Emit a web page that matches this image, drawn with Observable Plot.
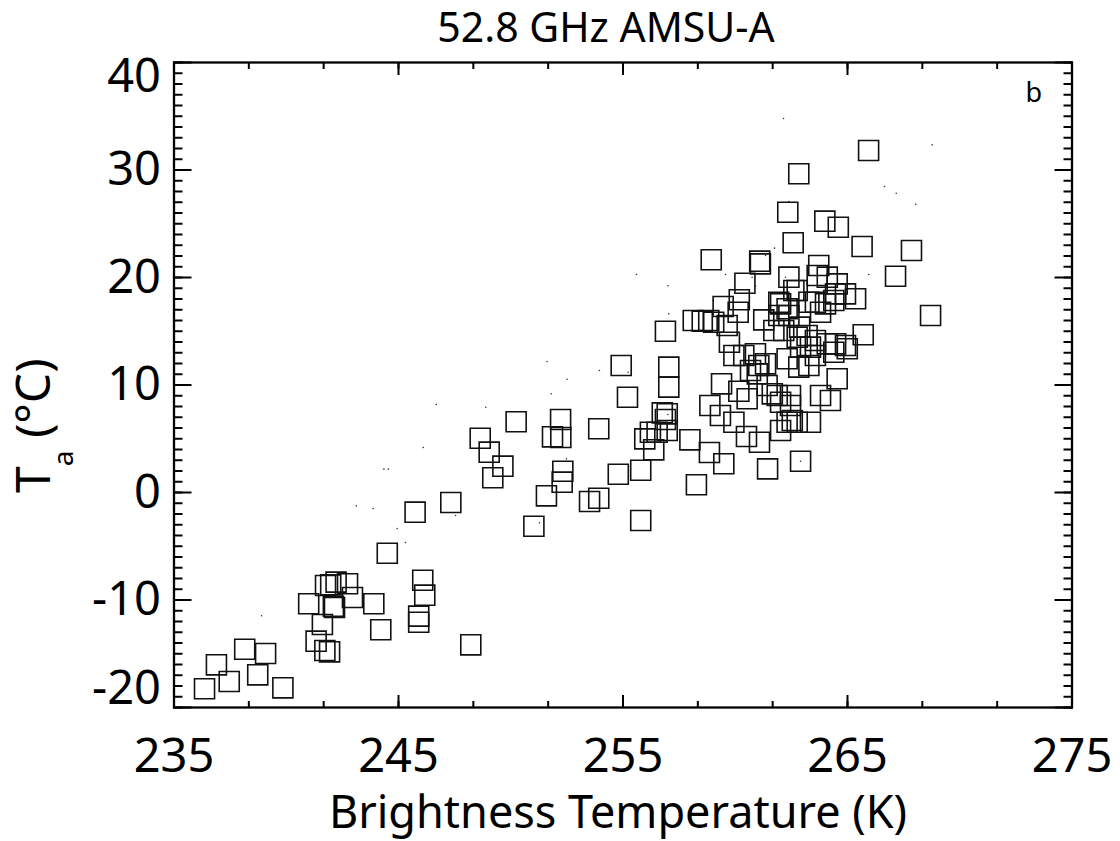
<!DOCTYPE html>
<html>
<head>
<meta charset="utf-8">
<script src="https://cdn.jsdelivr.net/npm/d3@7"></script>
<script src="https://cdn.jsdelivr.net/npm/@observablehq/plot@0.6"></script>
<style>
  html, body { margin: 0; padding: 0; background: #fff; }
  body { position: relative; }
  #title { position: absolute; top: 0; left: 0; z-index: 1; width: 1120px; height: 48px; box-sizing: border-box;
           padding-left: 92px; padding-top: 2px; text-align: center; font-family: "Noto Sans", sans-serif;
           font-size: 41px; line-height: 48px; color: #000; }
  #chart { padding-top: 34px; }
  svg { display: block; }
</style>
</head>
<body>
<div id="title">52.8 GHz AMSU-A</div>
<div id="chart"></div>
<script>
// Brightness temperature (K) of the squares
const btSquares = [
  236.36,236.89,237.46,238.15,239.08,238.73,239.85,241.00,241.61,241.33,
  241.72,241.93,241.75,241.98,242.22,242.73,242.10,242.15,242.95,243.90,
  244.21,244.50,245.74,246.08,246.17,245.90,245.90,247.33,248.22,248.64,
  249.04,249.65,249.20,250.24,251.03,252.22,251.86,252.23,253.92,252.32,
  252.29,251.59,253.51,253.92,254.79,255.79,255.79,255.20,254.92,257.04,
  257.04,256.75,256.97,256.89,255.97,256.22,256.52,256.97,256.37,257.98,
  258.85,259.49,258.27,259.39,258.87,259.34,259.94,260.16,260.50,260.53,
  256.89,258.13,258.53,258.82,259.04,259.64,259.74,259.94,260.38,260.90,
  261.05,261.35,260.98,260.68,261.42,261.87,261.65,262.46,262.02,262.46,
  262.54,262.76,262.31,262.02,263.35,261.08,261.44,262.91,262.31,262.83,
  263.28,263.57,263.35,262.91,264.39,264.99,264.54,263.80,264.24,265.70,
  268.70,265.94,262.83,262.34,263.99,264.59,262.58,265.65,267.85,258.93,
  261.09,261.12,267.14,260.43,263.72,262.39,260.18,259.46,260.13,261.27,
  262.02,262.61,262.76,263.65,264.10,264.54,264.47,264.39,264.91,265.36,
  263.57,263.28,263.80,261.94,262.31,262.39,262.16,262.76,263.20,263.57,
  264.10,264.47,264.91,261.72,264.02,261.94,262.87
];
// Air temperature Ta (°C) of the squares
const taSquares = [
  -18.26,-16.03,-17.58,-14.58,-14.98,-16.96,-18.17,-10.35,-12.28,-13.83,
  -14.70,-14.82,-8.65,-8.59,-8.34,-8.49,-10.58,-10.70,-9.77,-10.35,
  -12.77,-5.65,-1.83,-8.16,-9.55,-11.50,-12.07,-0.93,-14.17,5.05,
  3.75,2.45,1.37,6.58,-3.14,6.79,5.18,5.12,5.93,1.98,
  0.96,-0.31,-0.84,-0.53,1.70,2.07,-2.60,8.86,11.81,11.66,
  9.80,7.41,7.32,6.79,4.99,5.61,5.61,5.77,3.97,4.90,
  3.72,2.67,0.72,10.11,8.09,7.16,6.54,9.42,5.21,8.72,
  15.00,16.00,15.93,16.00,15.84,15.53,13.98,12.74,12.74,12.90,
  11.81,11.97,11.04,11.35,9.95,9.02,9.18,9.02,8.40,8.09,
  6.70,6.54,6.54,5.77,6.54,4.68,2.20,2.91,12.44,11.66,
  11.81,12.74,13.52,13.52,13.05,13.37,10.58,9.02,8.56,14.67,
  16.47,31.81,29.65,26.07,25.24,24.68,23.23,22.88,22.51,21.65,
  21.52,21.27,20.12,19.47,21.12,20.03,17.93,17.30,16.77,16.06,
  17.55,18.79,18.79,20.19,20.03,19.41,18.48,17.86,18.48,18.02,
  17.70,17.70,16.77,17.70,17.09,16.47,15.07,14.45,14.60,14.14,
  13.83,13.83,13.67,15.07,17.55,16.47,15.38
];
// Small dots
const btDots = [
  246.68,248.89,246.10,244.35,244.55,243.12,243.87,244.94,245.31,247.54,
  251.28,238.90,251.62,253.95,252.51,251.80,252.48,255.23,257.00,268.77,
  266.65,267.17,268.04,262.39,261.75,261.35,259.57,257.00,257.04,265.95,
  262.24,260.90,260.75,259.02,262.91,262.15,255.60
];
const taDots = [
  8.19,7.93,4.19,2.17,2.17,-1.24,-1.49,-3.35,-4.65,-2.14,
  -2.82,-11.47,12.19,11.35,10.54,9.18,3.13,11.19,7.26,32.34,
  28.47,27.84,26.82,27.07,22.73,22.05,20.28,19.23,16.62,20.28,
  20.03,19.19,20.03,17.86,2.91,34.79,20.28
];
const xTickLabels = [235, 245, 255, 265, 275];
const yTickLabels = [-20, -10, 0, 10, 20, 30, 40];
const xMinorTicks = d3.range(0, 13).map(i => 235 + i * 10 / 3);
const yMinorTicks = d3.range(-20, 41, 1);

const squares = btSquares.map((bt, i) => ({bt, ta: taSquares[i]}));
const dots = btDots.map((bt, i) => ({bt, ta: taDots[i]}));

const fmt = d => String(d);
const tickStyle = {fill: "none", strokeWidth: 2, label: null};
const textStyle = {tickSize: 0, fontSize: 47, label: null, tickFormat: fmt};

const chart = Plot.plot({
  width: 1120,
  height: 807,
  marginLeft: 173.5,
  marginRight: 48.5,
  marginTop: 28,
  marginBottom: 134,
  style: {fontFamily: "Noto Sans, sans-serif", color: "#000", background: "transparent"},
  x: {domain: [235, 275]},
  y: {domain: [-20, 40]},
  marks: [
    Plot.dot(dots, {x: "bt", y: "ta", r: 0.8, fill: "#333"}),
    Plot.dot(squares, {x: "bt", y: "ta", symbol: "square", r: 11.3, stroke: "#111", strokeWidth: 1.6, fill: "none"}),
    // inward ticks
    Plot.axisY(yMinorTicks, {anchor: "left", tickSize: -9, ...tickStyle}),
    Plot.axisY(yTickLabels, {anchor: "left", tickSize: -18, ...tickStyle}),
    Plot.axisY(yMinorTicks, {anchor: "right", tickSize: -9, ...tickStyle}),
    Plot.axisY(yTickLabels, {anchor: "right", tickSize: -18, ...tickStyle}),
    Plot.axisX(xMinorTicks, {anchor: "bottom", tickSize: -6, ...tickStyle}),
    Plot.axisX(xTickLabels, {anchor: "bottom", tickSize: -12, ...tickStyle}),
    Plot.axisX(xMinorTicks, {anchor: "top", tickSize: -6, ...tickStyle}),
    Plot.axisX(xTickLabels, {anchor: "top", tickSize: -12, ...tickStyle}),
    // tick labels
    Plot.axisY(yTickLabels.filter(d => d > -20 && d < 40), {anchor: "left", tickPadding: 13, ...textStyle}),
    Plot.axisY([40], {anchor: "left", tickPadding: 13, dy: 14, ...textStyle}),
    Plot.axisY([-20], {anchor: "left", tickPadding: 13, dy: -19, ...textStyle}),
    Plot.axisX(xTickLabels, {anchor: "bottom", tickPadding: 31, ...textStyle}),
    Plot.frame({stroke: "#000", strokeWidth: 2.3}),
    Plot.text(["b"], {frameAnchor: "top-right", text: d => d, dx: -30, dy: 31, textAnchor: "end", lineAnchor: "middle", fontSize: 27}),
    Plot.text(["Brightness Temperature (K)"], {frameAnchor: "bottom", text: d => d, dx: -5, dy: 89, lineAnchor: "top", fontSize: 45})
  ]
});

document.getElementById("chart").appendChild(chart);

// Y axis title with subscript
const svg = d3.select(chart);
const ylab = svg.append("text")
  .attr("transform", "translate(50,459) rotate(-90)")
  .attr("text-anchor", "start")
  .attr("font-family", "Noto Sans, sans-serif")
  .attr("font-size", 48)
  .attr("fill", "#000");
ylab.append("tspan").text("T");
ylab.append("tspan").attr("dy", 23).attr("font-size", 28).text("a");
ylab.append("tspan").attr("dy", -23).text(" (°C)");
</script>
</body>
</html>
